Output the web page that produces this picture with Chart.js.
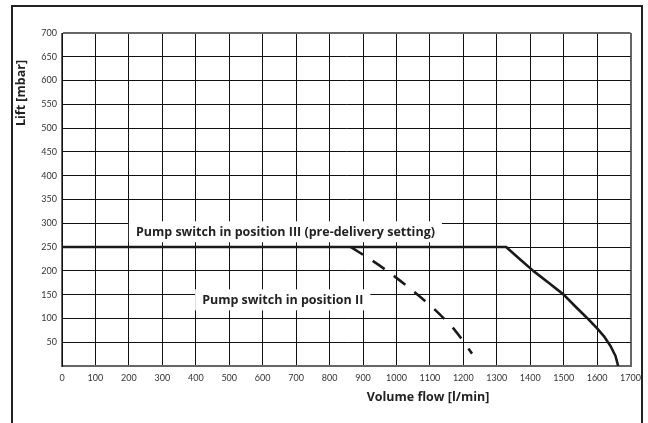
<!DOCTYPE html>
<html>
<head>
<meta charset="utf-8">
<script src="https://cdn.jsdelivr.net/npm/chart.js@4"></script>
<style>
  html, body { margin: 0; padding: 0; background: #fff; }
  #wrap { width: 648px; height: 423px; position: relative; }
</style>
</head>
<body>
<div id="wrap"><canvas id="pumpChart" width="648" height="423"></canvas></div>
<script>
// volume flow [l/min] / lift [mbar]
const posIIIFlow = [0, 1328, 1370, 1409, 1455, 1500, 1535, 1570, 1600, 1620, 1640, 1655, 1663];
const posIIILift = [250, 250, 224, 200, 175, 150, 125, 101, 79, 63, 42, 21, 0];

const posIIFlow = [864, 920, 976, 1047, 1114, 1175, 1226];
const posIILift = [250, 225, 198, 159, 119, 75, 26];

const flowRange = [0, 1700];
const liftRange = [0, 700];

const labelIII = 'Pump switch in position III (pre-delivery setting)';
const labelII = 'Pump switch in position II';
const xTitle = 'Volume flow [l/min]';
const yTitle = 'Lift [mbar]';

const toPoints = (xs, ys) => xs.map((x, i) => ({ x: x, y: ys[i] }));

const tickFont = { family: 'Lato', size: 9 };
const boldFont = "bold 12.5px 'Open Sans'";

// frame, axis titles and the two boxed curve labels
const sheetPlugin = {
    id: 'sheet',
    afterDatasetsDraw(chart) {
        const ctx = chart.ctx;
        const xs = chart.scales.x;
        const ys = chart.scales.y;
        ctx.save();
        ctx.font = boldFont;
        ctx.textBaseline = 'middle';
        ctx.textAlign = 'center';

        const boxed = (text, fx, fy) => {
            const cx = xs.getPixelForValue(fx);
            const cy = ys.getPixelForValue(fy);
            const w = ctx.measureText(text).width;
            ctx.fillStyle = '#fff';
            ctx.fillRect(cx - w / 2 - 7, cy - 11, w + 14, 21);
            ctx.fillStyle = '#222';
            ctx.fillText(text, cx, cy);
        };
        boxed(labelIII, 668, 281);
        boxed(labelII, 660, 138);
        ctx.restore();
    },
    afterDraw(chart) {
        const ctx = chart.ctx;
        ctx.save();
        ctx.strokeStyle = '#222';
        ctx.lineWidth = 2;
        ctx.strokeRect(12, 6, 630, 430);

        ctx.fillStyle = '#222';
        ctx.font = boldFont;
        ctx.textBaseline = 'middle';
        ctx.textAlign = 'center';
        ctx.fillText(xTitle, 428, 397);

        ctx.translate(21, 93);
        ctx.rotate(-Math.PI / 2);
        ctx.fillText(yTitle, 0, 0);
        ctx.restore();
    }
};

const gridStyle = (ctx, last) => {
    const v = ctx.tick ? ctx.tick.value : null;
    return (v === 0 || v === last) ? '#666' : '#111';
};
const gridWidth = (ctx, last) => {
    const v = ctx.tick ? ctx.tick.value : null;
    return (v === 0 || v === last) ? 2 : 1;
};

new Chart(document.getElementById('pumpChart').getContext('2d'), {
    type: 'line',
    data: {
        datasets: [{
            label: labelIII,
            data: toPoints(posIIIFlow, posIIILift),
            borderColor: '#1a1a1a',
            borderWidth: 2.6,
            borderJoinStyle: 'round',
            pointRadius: 0,
            tension: 0,
            fill: false
        }, {
            label: labelII,
            data: toPoints(posIIFlow, posIILift),
            borderColor: '#1a1a1a',
            borderWidth: 2.6,
            borderDash: [14, 12],
            pointRadius: 0,
            tension: 0.3,
            fill: false
        }]
    },
    options: {
        responsive: false,
        animation: false,
        devicePixelRatio: 1,
        layout: { padding: { top: 33, right: 15, left: 0, bottom: 0 } },
        plugins: {
            legend: { display: false },
            tooltip: { enabled: false }
        },
        scales: {
            x: {
                type: 'linear',
                min: flowRange[0],
                max: flowRange[1],
                afterFit: s => { s.height = 57; },
                ticks: {
                    stepSize: 100,
                    color: '#333',
                    font: tickFont,
                    padding: 7,
                    maxRotation: 0,
                    autoSkip: false,
                    callback: v => v
                },
                grid: {
                    drawTicks: false,
                    color: c => gridStyle(c, flowRange[1]),
                    lineWidth: c => gridWidth(c, flowRange[1])
                },
                border: { color: '#666', width: 2 }
            },
            y: {
                type: 'linear',
                min: liftRange[0],
                max: liftRange[1],
                afterFit: s => { s.width = 62; },
                ticks: {
                    stepSize: 50,
                    color: '#333',
                    font: tickFont,
                    padding: 5,
                    autoSkip: false,
                    callback: v => (v === 0 ? '' : v)
                },
                grid: {
                    drawTicks: false,
                    color: c => gridStyle(c, liftRange[1]),
                    lineWidth: c => gridWidth(c, liftRange[1])
                },
                border: { color: '#111', width: 1 }
            }
        }
    },
    plugins: [sheetPlugin]
});
</script>
</body>
</html>
